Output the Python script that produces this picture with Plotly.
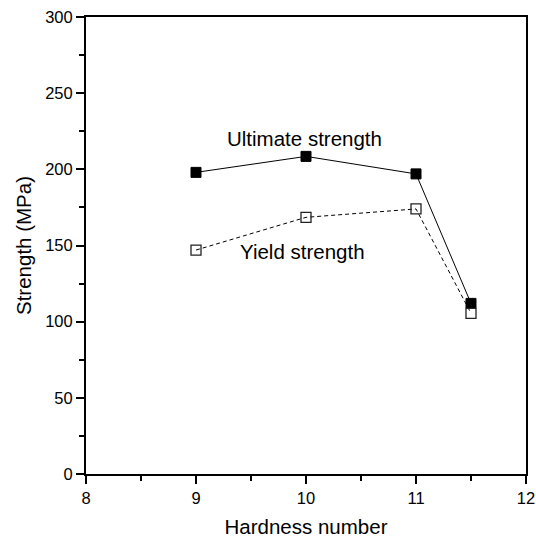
import plotly.graph_objects as go

hardness = [9, 10, 11, 11.5]
ultimate = [198, 208.5, 197, 112]
yield_s = [147, 168.5, 174, 105.5]

FONT = "Liberation Sans, Arial"

fig = go.Figure()
fig.add_trace(go.Scatter(x=hardness, y=ultimate, mode="lines+markers",
                         line=dict(color="black", width=1),
                         marker=dict(symbol="square", size=10, color="black",
                                     line=dict(color="black", width=1)),
                         showlegend=False))
fig.add_trace(go.Scatter(x=hardness, y=yield_s, mode="lines+markers",
                         line=dict(color="black", width=1, dash="4px,3px"),
                         marker=dict(symbol="square-open", size=10, color="#222222",
                                     line=dict(width=1.3)),
                         showlegend=False))

fig.add_annotation(x=9.985, y=220.5, text="Ultimate strength", showarrow=False,
                   font=dict(size=20.5, color="black", family=FONT))
fig.add_annotation(x=9.97, y=146, text="Yield strength", showarrow=False,
                   font=dict(size=20.5, color="black", family=FONT))

axis_common = dict(showline=True, linecolor="black", linewidth=2, mirror=True,
                   ticks="outside", ticklen=8, tickwidth=2, tickcolor="black",
                   showgrid=False, zeroline=False,
                   tickfont=dict(size=16.5, color="black", family=FONT))

fig.update_xaxes(range=[8, 12], dtick=1, tick0=8,
                 minor=dict(dtick=0.5, ticks="outside", ticklen=5, tickwidth=2, tickcolor="black"),
                 title=dict(text="Hardness number", standoff=14,
                            font=dict(size=20.5, color="black", family=FONT)),
                 **axis_common)
fig.update_yaxes(range=[0, 300], dtick=50, tick0=0,
                 minor=dict(dtick=25, ticks="outside", ticklen=5, tickwidth=2, tickcolor="black"),
                 title=dict(text="Strength (MPa)", standoff=8,
                            font=dict(size=20.5, color="black", family=FONT)),
                 **axis_common)

fig.update_layout(width=536, height=540, plot_bgcolor="white", paper_bgcolor="white",
                  margin=dict(l=86, r=10, t=17, b=66, autoexpand=False),
                  font=dict(family=FONT, color="black"))

fig.write_html("out.html")
